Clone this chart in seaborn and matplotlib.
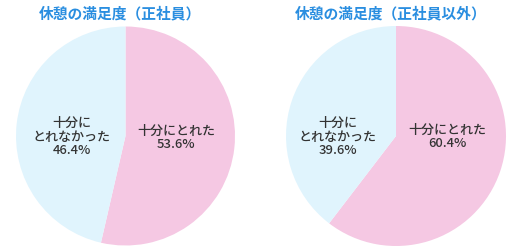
import matplotlib
matplotlib.use("Agg")
import matplotlib.pyplot as plt
import seaborn as sns

sns.set_theme(style="white")
plt.rcParams['font.family'] = ['Noto Sans CJK JP', 'DejaVu Sans']

titles = ["休憩の満足度（正社員）", "休憩の満足度（正社員以外）"]
categories = ["十分にとれた", "十分に\nとれなかった"]
values_regular = [53.6, 46.4]
values_nonregular = [60.4, 39.6]
colors = ["#f5c8e3", "#e0f4fd"]
title_color = "#2a8ee0"
text_color = "#333333"

fig = plt.figure(figsize=(5.22, 2.47), dpi=100)
W, H = 522, 247

def add_pie(cx, cy, r, vals, title, title_x, label_pos):
    ax = fig.add_axes([(cx - r) / W, (H - (cy + r)) / H, 2 * r / W, 2 * r / H])
    ax.pie(vals, colors=colors, startangle=90, counterclock=False,
           wedgeprops=dict(linewidth=0, antialiased=True))
    ax.set_xlim(-1, 1)
    ax.set_ylim(-1, 1)
    ax.set_aspect('equal')
    ax.axis('off')
    for cat, v, (lx, ly) in zip(categories, vals, label_pos):
        ax.text((lx - cx) / r, (cy - ly) / r, f"{cat}\n{v:.1f}%", ha='center', va='center',
                fontsize=9.4, color=text_color, linespacing=1.08, fontweight='medium')
    fig.text(title_x / W, 1 - 13 / H, title, ha='center', va='center',
             fontsize=10.6, fontweight='bold', color=title_color)

add_pie(125.5, 136, 109.5, values_regular, titles[0], 120,
        [(176, 138), (72, 137)])
add_pie(396, 136, 110, values_nonregular, titles[1], 391,
        [(447, 137), (338, 137)])

fig.savefig("out.png", dpi=100)
